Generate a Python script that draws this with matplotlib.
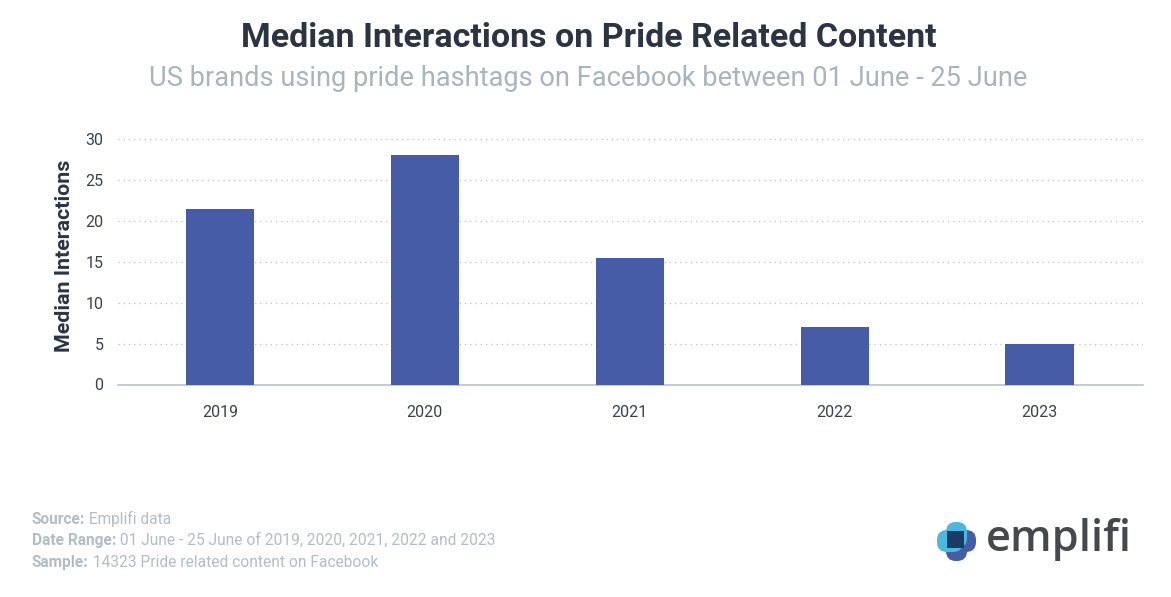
import matplotlib
matplotlib.use('Agg')
import matplotlib.pyplot as plt
from matplotlib.patches import FancyBboxPatch, Rectangle

years = ['2019', '2020', '2021', '2022', '2023']
interactions = [21.5, 28, 15.5, 7, 5]
y_ticks = [0, 5, 10, 15, 20, 25, 30]

W, H = 1171, 597
plt.rcParams['font.family'] = ['Roboto', 'DejaVu Sans']

fig = plt.figure(figsize=(W / 100, H / 100), dpi=100, facecolor='white')
ax = fig.add_axes([117.5 / W, 1 - 384.5 / H, (1143 - 117.5) / W, (384.5 - 139) / H])

ax.bar(range(len(years)), interactions, width=0.333, color='#475ca7', zorder=3)
ax.set_xlim(-0.5, 4.505)
ax.set_ylim(0, 30)
ax.set_xticks(range(len(years)))
ax.set_xticklabels(years)
ax.set_yticks(y_ticks)
ax.tick_params(axis='both', length=0, labelsize=11.5, labelcolor='#3a414c')
ax.tick_params(axis='x', pad=15)
ax.tick_params(axis='y', pad=10)
ax.grid(axis='y', color='#bcc0c4', linestyle=(0, (1, 3.2)), linewidth=0.9, zorder=0)
for s in ['top', 'right', 'left']:
    ax.spines[s].set_visible(False)
ax.spines['bottom'].set_color('#b8c2cc')
ax.spines['bottom'].set_linewidth(1.2)
ax.set_axisbelow(True)

fig.text(64 / W, 1 - 256 / H, 'Median Interactions', rotation=90, ha='center', va='center',
         fontsize=15.4, fontweight='bold', color='#2b3442')

fig.text(588.5 / W, 1 - 38 / H, 'Median Interactions on Pride Related Content', ha='center', va='center',
         fontsize=24.5, fontweight='bold', color='#2b3442')
fig.text(588.5 / W, 1 - 79 / H, 'US brands using pride hashtags on Facebook between 01 June - 25 June',
         ha='center', va='center', fontsize=19.6, color='#a9b4bc')

# footer, bold key then light value
foot = [('Source:', ' Emplifi data', 524),
        ('Date Range:', ' 01 June - 25 June of 2019, 2020, 2021, 2022 and 2023', 545),
        ('Sample:', ' 14323 Pride related content on Facebook', 567)]
rend = fig.canvas.get_renderer()
for key, val, y in foot:
    t = fig.text(32 / W, 1 - y / H, key, ha='left', va='baseline', fontsize=11.2, fontweight='bold', color='#b4bdc4')
    bb = t.get_window_extent(rend)
    fig.text(bb.x1 / W, 1 - y / H, val, ha='left', va='baseline', fontsize=11.2, color='#b4bdc4')

# logo
logo = fig.add_axes([0, 0, 1, 1], facecolor='none')
logo.set_xlim(0, W)
logo.set_ylim(H, 0)
logo.axis('off')
pills = [(946, 531, 21, 30, '#475ca7'), (946, 530, 30, 22, '#475ca7'),
         (937, 530, 26, 22, '#4cb8e0'), (946, 522, 21, 26, '#4cb8e0')]
for x, y, w, h, c in pills:
    logo.add_patch(FancyBboxPatch((x, y), w, h, boxstyle='round,pad=0,rounding_size=10', fc=c, ec='none'))
logo.add_patch(Rectangle((947, 531), 17, 17, fc='#1c3a66', ec='none'))
logo.text(986, 539, 'emplifi', ha='left', va='center', fontsize=31.3, family='Open Sans', fontweight='semibold', color='#45484c')

fig.savefig('out.png', dpi=100)
